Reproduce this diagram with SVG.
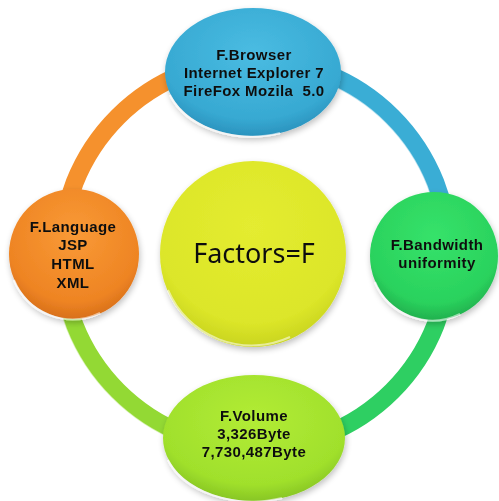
<svg xmlns="http://www.w3.org/2000/svg" width="499" height="501" viewBox="0 0 499 501">
<style>
.lbl{font-family:"Liberation Sans",Arial,sans-serif;font-weight:bold;font-size:15px;letter-spacing:0.4px;fill:#111;text-anchor:middle}
.ctr{font-family:"Noto Sans","Liberation Sans",sans-serif;font-size:27px;fill:#111;text-anchor:middle}
.band{fill:none;stroke-width:18}
.shine{fill:none;stroke:#ffffff;stroke-opacity:0.6;stroke-width:1.5}
.rim{fill:none;stroke:#ffffff;stroke-opacity:0.55;stroke-width:2}
</style>
<defs>
<filter id="sh" x="-20%" y="-20%" width="140%" height="140%">
<feGaussianBlur in="SourceAlpha" stdDeviation="3"/>
<feOffset dx="1" dy="3" result="b"/>
<feComponentTransfer><feFuncA type="linear" slope="0.25"/></feComponentTransfer>
<feMerge><feMergeNode/><feMergeNode in="SourceGraphic"/></feMerge>
</filter>
<radialGradient id="gBlue" cx="0.5" cy="0.35" r="0.65"><stop offset="0" stop-color="#4ABCE2"/><stop offset="0.8" stop-color="#37A9D2"/><stop offset="1" stop-color="#2B93BE"/></radialGradient>
<radialGradient id="gOrange" cx="0.5" cy="0.35" r="0.65"><stop offset="0" stop-color="#F99A36"/><stop offset="0.8" stop-color="#EE8423"/><stop offset="1" stop-color="#D8701A"/></radialGradient>
<radialGradient id="gGreen" cx="0.5" cy="0.35" r="0.65"><stop offset="0" stop-color="#36E26A"/><stop offset="0.8" stop-color="#2AD25D"/><stop offset="1" stop-color="#22B14E"/></radialGradient>
<radialGradient id="gLime" cx="0.5" cy="0.35" r="0.65"><stop offset="0" stop-color="#B2EC35"/><stop offset="0.8" stop-color="#A0E02C"/><stop offset="1" stop-color="#88C624"/></radialGradient>
<radialGradient id="gYellow" cx="0.5" cy="0.35" r="0.65"><stop offset="0" stop-color="#E4EC30"/><stop offset="0.8" stop-color="#DCE629"/><stop offset="1" stop-color="#C9D41F"/></radialGradient>
</defs>
<g id="connectors">
<path class="band" stroke="#3AADD5" d="M 255 60 A 194 194 0 0 1 449 254"/>
<path class="shine" d="M 255 69 A 185 185 0 0 1 440 254"/>
<path class="band" stroke="#2ECF62" d="M 449 254 A 194 194 0 0 1 255 448"/>
<path class="band" stroke="#93D934" d="M 255 448 A 194 194 0 0 1 61 254"/>
<path class="shine" d="M 255 457 A 203 203 0 0 1 52 254"/>
<path class="band" stroke="#F5912D" d="M 61 254 A 194 194 0 0 1 255 60"/>
</g>
<g id="node-center" filter="url(#sh)">
<circle cx="253" cy="254" r="93" fill="url(#gYellow)"/>
<path class="rim" d="M 168 290 A 91 91 0 0 0 290 337"/>
<text class="ctr" x="254" y="263">Factors=F</text>
</g>
<g id="node-browser" filter="url(#sh)">
<ellipse cx="253" cy="72" rx="88" ry="64" fill="url(#gBlue)"/>
<path class="rim" d="M 170 95 A 86 62 0 0 0 280 133"/>
<text class="lbl" x="254" y="60">F.Browser</text>
<text class="lbl" x="254" y="78">Internet Explorer 7</text>
<text class="lbl" x="254" y="96">FireFox Mozila&#160; 5.0</text>
</g>
<g id="node-language" filter="url(#sh)">
<circle cx="74" cy="254" r="65" fill="url(#gOrange)"/>
<path class="rim" d="M 14 280 A 63 63 0 0 0 100 313"/>
<text class="lbl" x="73" y="232">F.Language</text>
<text class="lbl" x="73" y="250">JSP</text>
<text class="lbl" x="73" y="269">HTML</text>
<text class="lbl" x="73" y="288">XML</text>
</g>
<g id="node-bandwidth" filter="url(#sh)">
<circle cx="434" cy="256" r="64" fill="url(#gGreen)"/>
<path class="rim" d="M 375 282 A 62 62 0 0 0 460 314"/>
<text class="lbl" x="437" y="250">F.Bandwidth</text>
<text class="lbl" x="437" y="268">uniformity</text>
</g>
<g id="node-volume" filter="url(#sh)">
<ellipse cx="254" cy="438" rx="91" ry="63" fill="url(#gLime)"/>
<path class="rim" d="M 168 460 A 89 61 0 0 0 282 498"/>
<text class="lbl" x="254" y="421">F.Volume</text>
<text class="lbl" x="254" y="439">3,326Byte</text>
<text class="lbl" x="254" y="457">7,730,487Byte</text>
</g>
</svg>
